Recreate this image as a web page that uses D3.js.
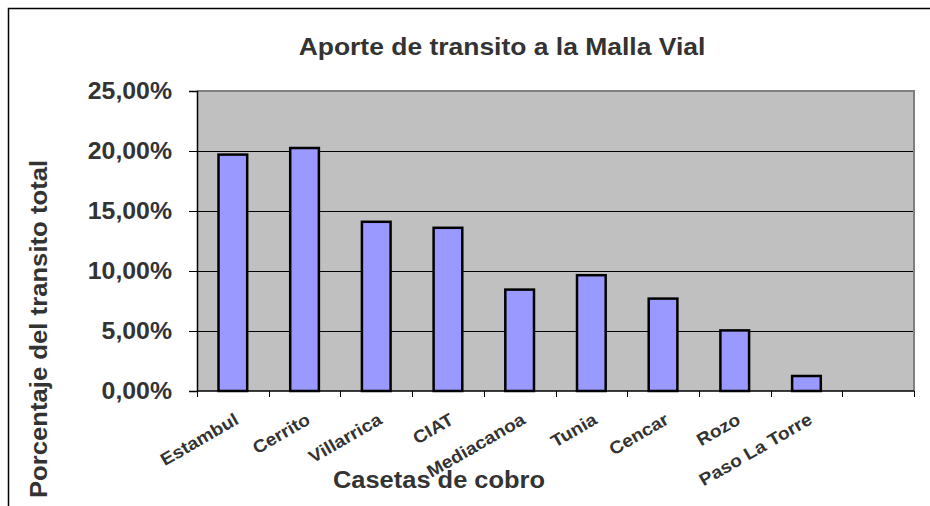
<!DOCTYPE html>
<meta charset="utf-8">
<script src="https://cdn.jsdelivr.net/npm/d3@7"></script>
<style>
  body { margin: 0; background: #fff; }
  text { font-family: "Liberation Sans", Arial, sans-serif; font-weight: bold; fill: #333; }
</style>
<div id="chart"></div>
<script>
  // data
  var casetas = ["Estambul", "Cerrito", "Villarrica", "CIAT", "Mediacanoa", "Tunia", "Cencar", "Rozo", "Paso La Torre", ""];
  var aporte = [0.197, 0.2025, 0.141, 0.136, 0.0845, 0.0965, 0.077, 0.0505, 0.0125, null];
  var yTicks = [0, 0.05, 0.10, 0.15, 0.20, 0.25];

  var W = 930, H = 506;
  var plot = {left: 197, top: 91, right: 914, bottom: 391};

  var svg = d3.select("#chart").append("svg")
    .attr("width", W)
    .attr("height", H);

  // outer chart frame (runs off the right / bottom of the picture)
  svg.append("path")
    .attr("d", "M8.5," + H + "V8.5H" + W)
    .attr("fill", "none")
    .attr("stroke", "#000")
    .attr("stroke-width", 1.5);

  var x = d3.scaleBand()
    .domain(d3.range(casetas.length))
    .range([plot.left, plot.right])
    .paddingInner(0.6)
    .paddingOuter(0.3);

  var xBand = d3.scaleBand()
    .domain(d3.range(casetas.length))
    .range([plot.left, plot.right]);

  var y = d3.scaleLinear()
    .domain([0, 0.25])
    .range([plot.bottom, plot.top]);

  // stretch text along its length like the source render
  function widen(sel, k) {
    sel.each(function() {
      var len = this.getComputedTextLength();
      d3.select(this).attr("textLength", len * k).attr("lengthAdjust", "spacingAndGlyphs");
    });
  }

  // plot background
  svg.append("rect")
    .attr("x", plot.left)
    .attr("y", plot.top)
    .attr("width", plot.right - plot.left)
    .attr("height", plot.bottom - plot.top)
    .attr("fill", "#c0c0c0");

  // grid lines
  svg.append("g")
    .selectAll("line")
    .data(yTicks.slice(1, -1))
    .enter()
    .append("line")
      .attr("x1", plot.left)
      .attr("x2", plot.right)
      .attr("y1", function(d) { return Math.round(y(d)) + 0.5; })
      .attr("y2", function(d) { return Math.round(y(d)) + 0.5; })
      .attr("stroke", "#000")
      .attr("stroke-width", 1);

  // top and right border of plot area
  svg.append("path")
    .attr("d", "M" + plot.left + "," + plot.top + "H" + plot.right + "V" + plot.bottom)
    .attr("fill", "none")
    .attr("stroke", "#808080")
    .attr("stroke-width", 2);

  // bars
  svg.append("g")
    .selectAll("rect")
    .data(aporte.map(function(v, i) { return {i: i, v: v}; }).filter(function(d) { return d.v != null; }))
    .enter()
    .append("rect")
      .attr("x", function(d) { return x(d.i); })
      .attr("y", function(d) { return y(d.v); })
      .attr("width", x.bandwidth())
      .attr("height", function(d) { return y(0) - y(d.v); })
      .attr("fill", "#9999ff")
      .attr("stroke", "#000")
      .attr("stroke-width", 2.5);

  // y axis
  var yAxis = svg.append("g")
    .attr("transform", "translate(" + plot.left + ",0)")
    .call(d3.axisLeft(y)
      .tickValues(yTicks)
      .tickSize(8)
      .tickPadding(17)
      .tickFormat(function(d) { return d3.format(".2f")(d * 100).replace(".", ",") + "%"; }));
  yAxis.select(".domain").attr("stroke", "#000").attr("stroke-width", 1.5);
  yAxis.selectAll("line").attr("stroke", "#000");
  yAxis.selectAll("text")
    .attr("font-size", 23)
    .attr("fill", "#333")
    .attr("font-family", null);
  widen(yAxis.selectAll("text"), 1.08);

  // x axis ticks at category boundaries
  var xLine = svg.append("g");
  xLine.append("line")
    .attr("x1", plot.left).attr("x2", plot.right)
    .attr("y1", plot.bottom).attr("y2", plot.bottom)
    .attr("stroke", "#000").attr("stroke-width", 1.5);
  xLine.selectAll(".tk")
    .data(d3.range(casetas.length + 1))
    .enter()
    .append("line")
      .attr("x1", function(i) { return Math.round(plot.left + i * xBand.step()) + 0.5; })
      .attr("x2", function(i) { return Math.round(plot.left + i * xBand.step()) + 0.5; })
      .attr("y1", plot.bottom)
      .attr("y2", plot.bottom + 6)
      .attr("stroke", "#000");

  // category labels, slanted
  var catLabels = svg.append("g")
    .selectAll("text")
    .data(casetas.map(function(c, i) { return {i: i, c: c}; }).filter(function(d) { return d.c; }))
    .enter()
    .append("text")
      .attr("text-anchor", "end")
      .attr("font-size", 17.5)
      .attr("transform", function(d) {
        return "translate(" + (xBand(d.i) + xBand.bandwidth() / 2 + 7) + "," + 423 + ") rotate(-30)";
      })
      .text(function(d) { return d.c; });
  widen(catLabels, 1.1);

  // title
  var title = svg.append("text")
    .attr("x", 502)
    .attr("y", 55)
    .attr("text-anchor", "middle")
    .attr("font-size", 23)
    .text("Aporte de transito a la Malla Vial");
  widen(title, 1.15);

  // axis titles
  var xTitle = svg.append("text")
    .attr("x", 439)
    .attr("y", 488)
    .attr("text-anchor", "middle")
    .attr("font-size", 24)
    .text("Casetas de cobro");
  widen(xTitle, 1.06);

  var yTitle = svg.append("text")
    .attr("transform", "translate(47,329) rotate(-90)")
    .attr("text-anchor", "middle")
    .attr("font-size", 24)
    .text("Porcentaje del transito total");
  widen(yTitle, 1.07);
</script>
